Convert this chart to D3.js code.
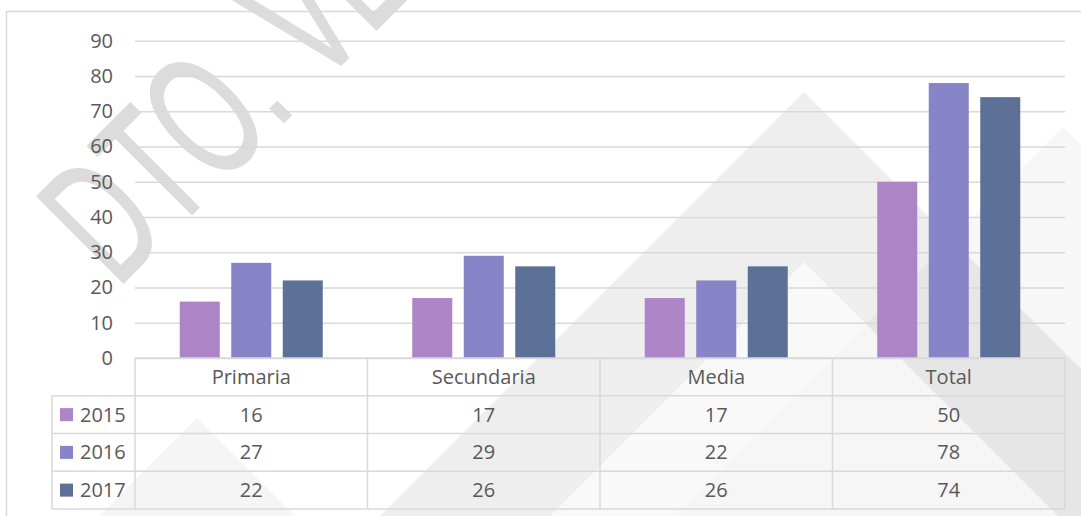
<!DOCTYPE html>
<html>
<head>
<meta charset="utf-8">
<script src="https://cdn.jsdelivr.net/npm/d3@7"></script>
<style>
  html, body { margin: 0; padding: 0; background: #ffffff; }
  svg { display: block; }
</style>
</head>
<body>
<svg id="chart" width="1081" height="516"></svg>
<script>
// ---- data ----
const categories = ["Primaria", "Secundaria", "Media", "Total"];
const years = ["2015", "2016", "2017"];
const values2015 = [16, 17, 17, 50];
const values2016 = [27, 29, 22, 78];
const values2017 = [22, 26, 26, 74];
const yTicks = [0, 10, 20, 30, 40, 50, 60, 70, 80, 90];
const seriesColors = ["#AD84C6", "#8784C7", "#5D7098"];

const seriesValues = [values2015, values2016, values2017];
const series = years.map((y, i) => ({ year: y, color: seriesColors[i], values: seriesValues[i] }));

// ---- layout ----
const plotL = 135, plotR = 1065, plotB = 358, plotT = 40.75;
const tableB = 509;
const labelColL = 52;
const textColor = "#595959";
const lineColor = "#d9d9d9";
const font = "'Open Sans', 'Liberation Sans', sans-serif";

const svg = d3.select("#chart");

// ---- watermark (background) ----
const wm = svg.append("g").attr("class", "watermark");
const tri = (ax, ay, base) => [[ax, ay], [ax - (base - ay), base], [ax + (base - ay), base]];
wm.append("polygon").attr("points", tri(804, 92, 516).join(" ")).attr("fill", "#000").attr("fill-opacity", 0.065);
wm.append("polygon").attr("points", tri(1063, 127, 516).join(" ")).attr("fill", "#000").attr("fill-opacity", 0.03);
wm.append("polygon").attr("points", tri(804, 262, 516).join(" ")).attr("fill", "#fff").attr("fill-opacity", 0.65);
wm.append("polygon").attr("points", tri(197, 418, 516).join(" ")).attr("fill", "#000").attr("fill-opacity", 0.04);
wm.append("g")
  .attr("transform", "translate(123,283) rotate(-45) scale(0.61,1)")
  .append("text")
  .attr("x", -14).attr("y", 0)
  .attr("font-family", "'Liberation Sans', Arial, sans-serif")
  .attr("font-size", 177)
  .attr("fill", "#dcdcdc")
  .attr("stroke", "#dcdcdc")
  .attr("stroke-width", 2)
  .attr("stroke-linejoin", "round")
  .text("DTO. VE");

// ---- outer frame ----
svg.append("rect")
  .attr("x", 6.5).attr("y", 11.5)
  .attr("width", 1200).attr("height", 600)
  .attr("fill", "none").attr("stroke", lineColor).attr("stroke-width", 1.5);

// ---- scales ----
const y = d3.scaleLinear().domain([0, 90]).range([plotB, plotT]);
const x0 = d3.scaleBand().domain(categories).range([plotL, plotR]).padding(0);
const groupW = 143;
const x1 = d3.scaleBand().domain(years).range([0, groupW]).paddingInner(0.223).paddingOuter(0);
const groupOff = (x0.bandwidth() - groupW) / 2;

// ---- gridlines + y axis ----
const yAxis = d3.axisLeft(y).tickValues(yTicks).tickSize(-(plotR - plotL)).tickPadding(22);
const gy = svg.append("g").attr("transform", `translate(${plotL},0)`).call(yAxis);
gy.select(".domain").remove();
gy.selectAll(".tick line").attr("stroke", lineColor).attr("stroke-width", 1.4);
gy.selectAll(".tick text")
  .attr("fill", textColor).attr("font-family", font).attr("font-size", 20);

// ---- bars ----
const gBars = svg.append("g");
series.forEach(s => {
  gBars.append("g").selectAll("rect")
    .data(categories.map((c, i) => ({ cat: c, v: s.values[i] })))
    .join("rect")
    .attr("x", d => x0(d.cat) + groupOff + x1(s.year))
    .attr("y", d => y(d.v))
    .attr("width", x1.bandwidth())
    .attr("height", d => y(0) - y(d.v))
    .attr("fill", s.color);
});

// ---- data table ----
const rows = ["header"].concat(years);
const ry = d3.scaleBand().domain(rows).range([plotB, tableB]);
const gT = svg.append("g");
const ln = (xa, ya, xb, yb) => gT.append("line")
  .attr("x1", xa).attr("y1", ya).attr("x2", xb).attr("y2", yb)
  .attr("stroke", lineColor).attr("stroke-width", 1.5);

ln(plotL, plotB, plotR, plotB);
years.forEach(yr => ln(labelColL, ry(yr), plotR, ry(yr)));
ln(labelColL, tableB, plotR, tableB);
ln(labelColL, ry("2015"), labelColL, tableB);
categories.forEach(c => ln(x0(c), plotB, x0(c), tableB));
ln(plotR, plotB, plotR, tableB);

gT.selectAll("text.hdr").data(categories).join("text")
  .attr("class", "hdr")
  .attr("x", c => x0(c) + x0.bandwidth() / 2)
  .attr("y", ry("header") + ry.bandwidth() / 2)
  .attr("dy", "0.35em")
  .attr("text-anchor", "middle")
  .attr("fill", textColor).attr("font-family", font).attr("font-size", 20)
  .text(c => c);

series.forEach(s => {
  const cy = ry(s.year) + ry.bandwidth() / 2;
  gT.append("rect")
    .attr("x", 60).attr("y", cy - 6.5).attr("width", 13).attr("height", 13)
    .attr("fill", s.color);
  gT.append("text")
    .attr("x", 80).attr("y", cy).attr("dy", "0.35em")
    .attr("fill", textColor).attr("font-family", font).attr("font-size", 20)
    .text(s.year);
  gT.append("g").selectAll("text")
    .data(categories.map((c, i) => ({ cat: c, v: s.values[i] })))
    .join("text")
    .attr("x", d => x0(d.cat) + x0.bandwidth() / 2)
    .attr("y", cy).attr("dy", "0.35em")
    .attr("text-anchor", "middle")
    .attr("fill", textColor).attr("font-family", font).attr("font-size", 20)
    .text(d => d.v);
});
</script>
</body>
</html>
